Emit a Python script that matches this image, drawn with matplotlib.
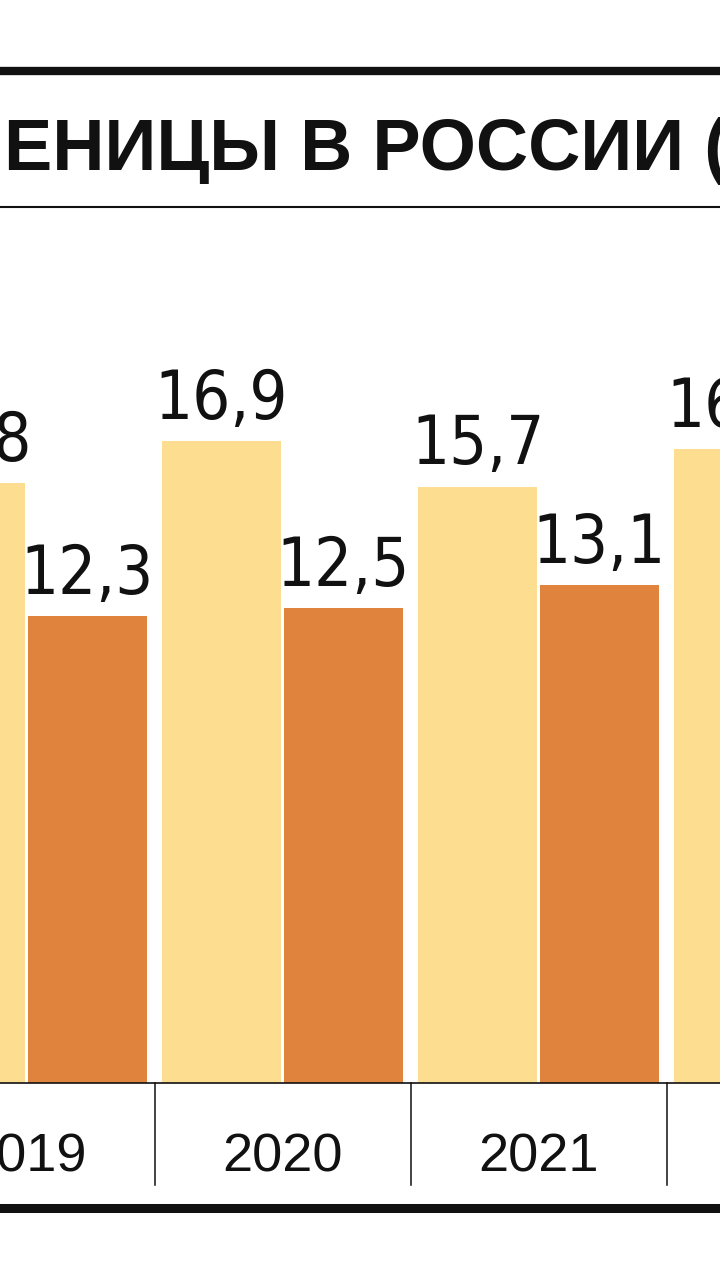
import matplotlib
matplotlib.use("Agg")
import matplotlib.pyplot as plt
from matplotlib import font_manager
from matplotlib import transforms

# data (crop shows 2019..2022, 2022 dark bar is off-frame)
years = ['2019', '2020', '2021', '2022']
light_vals = [15.8, 16.9, 15.7, 16.7]
dark_vals = [12.3, 12.5, 13.1]
title = 'СЕБЕСТОИМОСТЬ И ЦЕНА ПШЕНИЦЫ В РОССИИ (ТЫС. РУБ./Т)'
title_prefix = 'СЕБЕСТОИМОСТЬ И ЦЕНА ПШ'

LIGHT = '#FDDE90'
DARK = '#E0833D'
INK = '#111111'

W, H = 720, 1280
base_px = 1083          # baseline of the bars, px from top
unit_px = 37.98         # px per value unit
pitch_px = 256          # px between year groups
first_center_px = 26.5  # centre of the 2019 group

names = set(f.name for f in font_manager.fontManager.ttflist)
if 'Liberation Sans Narrow' in names:
    narrow = dict(family='Liberation Sans Narrow')
    val_size = 56
else:
    narrow = dict(family='DejaVu Sans', stretch='condensed')
    val_size = 48

fig = plt.figure(figsize=(W / 100, H / 100), dpi=100)
fig.patch.set_facecolor('white')

b = 1 - base_px / H
ax = fig.add_axes([0, b, 1, 1 - b])
ax.set_xlim(-first_center_px / pitch_px, (W - first_center_px) / pitch_px)
ax.set_ylim(0, base_px / unit_px)
ax.axis('off')

off = 0.238
bw = 0.466
xs = list(range(len(years)))
ax.bar([x - off for x in xs], light_vals, width=bw, color=LIGHT, linewidth=0)
ax.bar([x + off for x in xs[:len(dark_vals)]], dark_vals, width=bw, color=DARK, linewidth=0)

lab_kw = dict(ha='center', va='baseline', fontsize=val_size, color=INK,
              textcoords='offset points', xytext=(0, 16), annotation_clip=False, **narrow)
for x, v in zip(xs, light_vals):
    ax.annotate(f'{v:.1f}'.replace('.', ','), (x - off, v), **lab_kw)
for x, v in zip(xs, dark_vals):
    ax.annotate(f'{v:.1f}'.replace('.', ','), (x + off, v), **lab_kw)

# baseline and group separators
ax.axhline(0, color=INK, lw=1.2, clip_on=False)
blend = transforms.blended_transform_factory(ax.transData, fig.transFigure)
for x in xs:
    ax.plot([x + 0.5, x + 0.5], [1 - base_px / H, 1 - 1185 / H], color=INK, lw=1.1,
            transform=blend, clip_on=False)
    ax.text(x, 1 - 1171 / H, years[x], transform=blend, ha='center', va='baseline',
            fontsize=39, color=INK, family='Liberation Sans')

# frame lines
fig.add_artist(plt.Line2D([0, 1], [1 - 71 / H] * 2, color=INK, lw=6))
fig.add_artist(plt.Line2D([0, 1], [1 - 207 / H] * 2, color=INK, lw=1.5))
fig.add_artist(plt.Line2D([0, 1], [1 - 1207.5 / H] * 2, color=INK, lw=6.5))

# title, shifted so that the visible part starts where the crop shows it
tkw = dict(fontsize=52, fontweight='bold', family='Liberation Sans', color=INK, va='baseline')
r = fig.canvas.get_renderer()
t = fig.text(0, 0, title_prefix, **tkw)
pw = t.get_window_extent(r).width
t.remove()
fig.text((4 - pw) / W, 1 - 170 / H, title, ha='left', **tkw)

fig.savefig('out.png', dpi=100)
